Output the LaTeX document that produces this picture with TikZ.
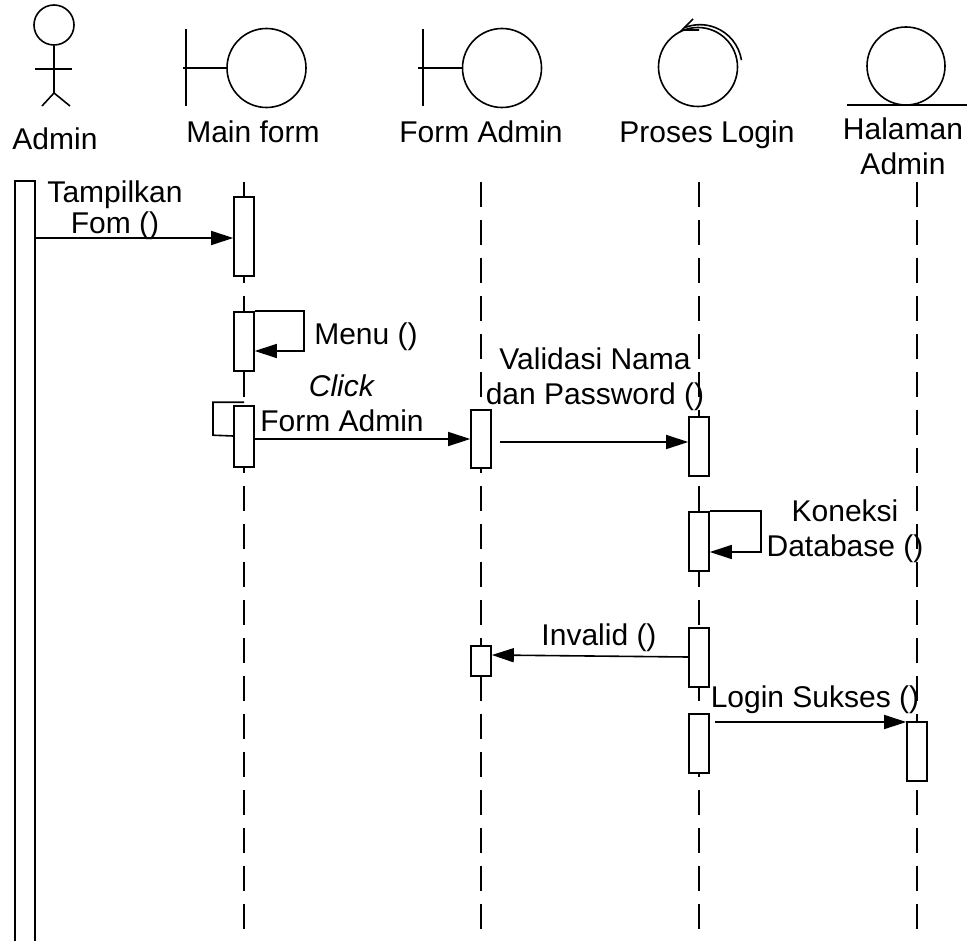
\documentclass[tikz,border=0pt]{standalone}
\usepackage{fontspec}
\setmainfont{Liberation Sans}
\usetikzlibrary{arrows.meta,calc}
\begin{document}
\begin{tikzpicture}[x=1pt,y=1pt, line width=1.6pt,
  bar/.style={draw, fill=white, rectangle, minimum width=20pt, inner sep=0pt, line width=1.6pt},
  life/.style={line width=1.7pt, dash pattern=on 25pt off 13pt},
  msg/.style={-{Triangle[length=22pt,width=14pt]}},
  lbl/.style={font=\fontsize{30}{35}\selectfont, inner sep=0pt, align=center},
  sym/.style={draw, circle, inner sep=0pt, line width=1.6pt}]
\useasboundingbox (0,0) rectangle (971,-941);
% ---------- heads ----------
% actor
\node[sym, minimum size=40pt] (head) at (54,-25) {};
\draw (head.south) -- (54,-93);
\draw (35,-69) -- (72,-69);
\draw (42,-106) -- (54,-93) -- (70,-106);
% boundary Main form
\node[sym, minimum size=79pt] (mfc) at (266.5,-68) {};
\draw (186,-29) -- (186,-106);
\draw (mfc.west) -- (183,-68);
% boundary Form Admin
\node[sym, minimum size=79pt] (fac) at (502,-68) {};
\draw (423,-29) -- (423,-106);
\draw (fac.west) -- (418,-68);
% control Proses Login
\node[sym, minimum size=79pt] (plc) at (698,-67) {};
\draw (plc.center) ++(9:44) arc[start angle=9, end angle=111, radius=42];
\draw (693,-19) -- (682,-30) -- (699,-30);
% entity Halaman Admin
\node[sym, minimum size=78pt] (hac) at (906,-66) {};
\draw (847,-105) -- (967,-105);
% names
\node[lbl, anchor=base] (nadmin) at (55,-150) {Admin};
\node[lbl, anchor=base] (nmf) at (253,-143) {Main form};
\node[lbl, anchor=base] (nfa) at (481,-143) {Form Admin};
\node[lbl, anchor=base] (npl) at (707,-143) {Proses Login};
\node[lbl, anchor=north] (nha) at (903,-117) {Halaman\\Admin};
% ---------- lifelines ----------
\coordinate (top) at (0,-182);
\coordinate (bot) at (0,-941);
\coordinate (xmf) at (244,0);
\coordinate (xfa) at (481,0);
\coordinate (xpl) at (699,0);
\coordinate (xha) at (917,0);
\draw[life] (xmf |- top) -- (xmf |- bot);
\draw[life] (xfa |- top) -- (xfa |- bot);
\draw[life] (xpl |- top) -- (xpl |- bot);
\draw[life] (xha |- top) -- (xha |- bot);
% ---------- activation bars ----------
\node[bar, minimum height=780pt] (ab) at (25,-571) {};
\node[bar, minimum height=79pt] (mb1) at (244,-236.5) {};
\node[bar, minimum height=59pt] (mb2) at (244,-341.5) {};
\node[bar, minimum height=61pt] (mb3) at (244,-436.5) {};
\node[bar, minimum height=58pt] (fa1) at (481,-439) {};
\node[bar, minimum height=30pt] (fa2) at (481,-661) {};
\node[bar, minimum height=59pt] (pl1) at (699,-446.5) {};
\node[bar, minimum height=59pt] (pl2) at (699,-541.5) {};
\node[bar, minimum height=59pt] (pl3) at (699,-657.5) {};
\node[bar, minimum height=59pt] (pl4) at (699,-743.5) {};
\node[bar, minimum height=59pt] (ha1) at (917,-751.5) {};
% ---------- messages ----------
\coordinate (r1) at (0,-238);
\draw[msg] (ab.east |- r1) -- (mb1.west |- r1);
\node[lbl, anchor=north, font=\fontsize{30}{31}\selectfont] (t1) at (115,-180) {Tampilkan\\Fom ()};

\coordinate (r2) at (0,-351);
\draw[msg] (mb2.north east) -- ++(49,0) |- (mb2.east |- r2);
\node[lbl, anchor=base] (t2) at (366,-344) {Menu ()};

\coordinate (r3) at (0,-436);
\draw (mb3.north) ++(0,3) -| ++(-31,-33) -- (mb3.west |- r3);
\draw[msg] (mb3.east |- fa1.west) -- (fa1.west);
\node[lbl, anchor=north, font=\fontsize{30}{35}\selectfont] (t3) at (342,-374) {\textit{Click}\\Form Admin};

\coordinate (s4) at (500,-442);
\draw[msg] (s4) -- (pl1.west |- s4);
\node[lbl, anchor=north] (t4) at (595,-347) {Validasi Nama\\dan Password ()};

\coordinate (r5) at (0,-552);
\draw[msg] (pl2.north east) -- ++(51,0) |- (pl2.east |- r5);
\node[lbl, anchor=north] (t5) at (845,-499) {Koneksi\\Database ()};

\coordinate (r6a) at (0,-657);
\coordinate (r6b) at (0,-655);
\draw[msg] (pl3.west |- r6a) -- (fa2.east |- r6b);
\node[lbl, anchor=base] (t6) at (599,-645) {Invalid ()};

\coordinate (s7) at (715,-722);
\draw[msg] (s7) -- (ha1.west |- s7);
\node[lbl, anchor=base] (t7) at (815,-707) {Login Sukses ()};
\end{tikzpicture}
\end{document}
